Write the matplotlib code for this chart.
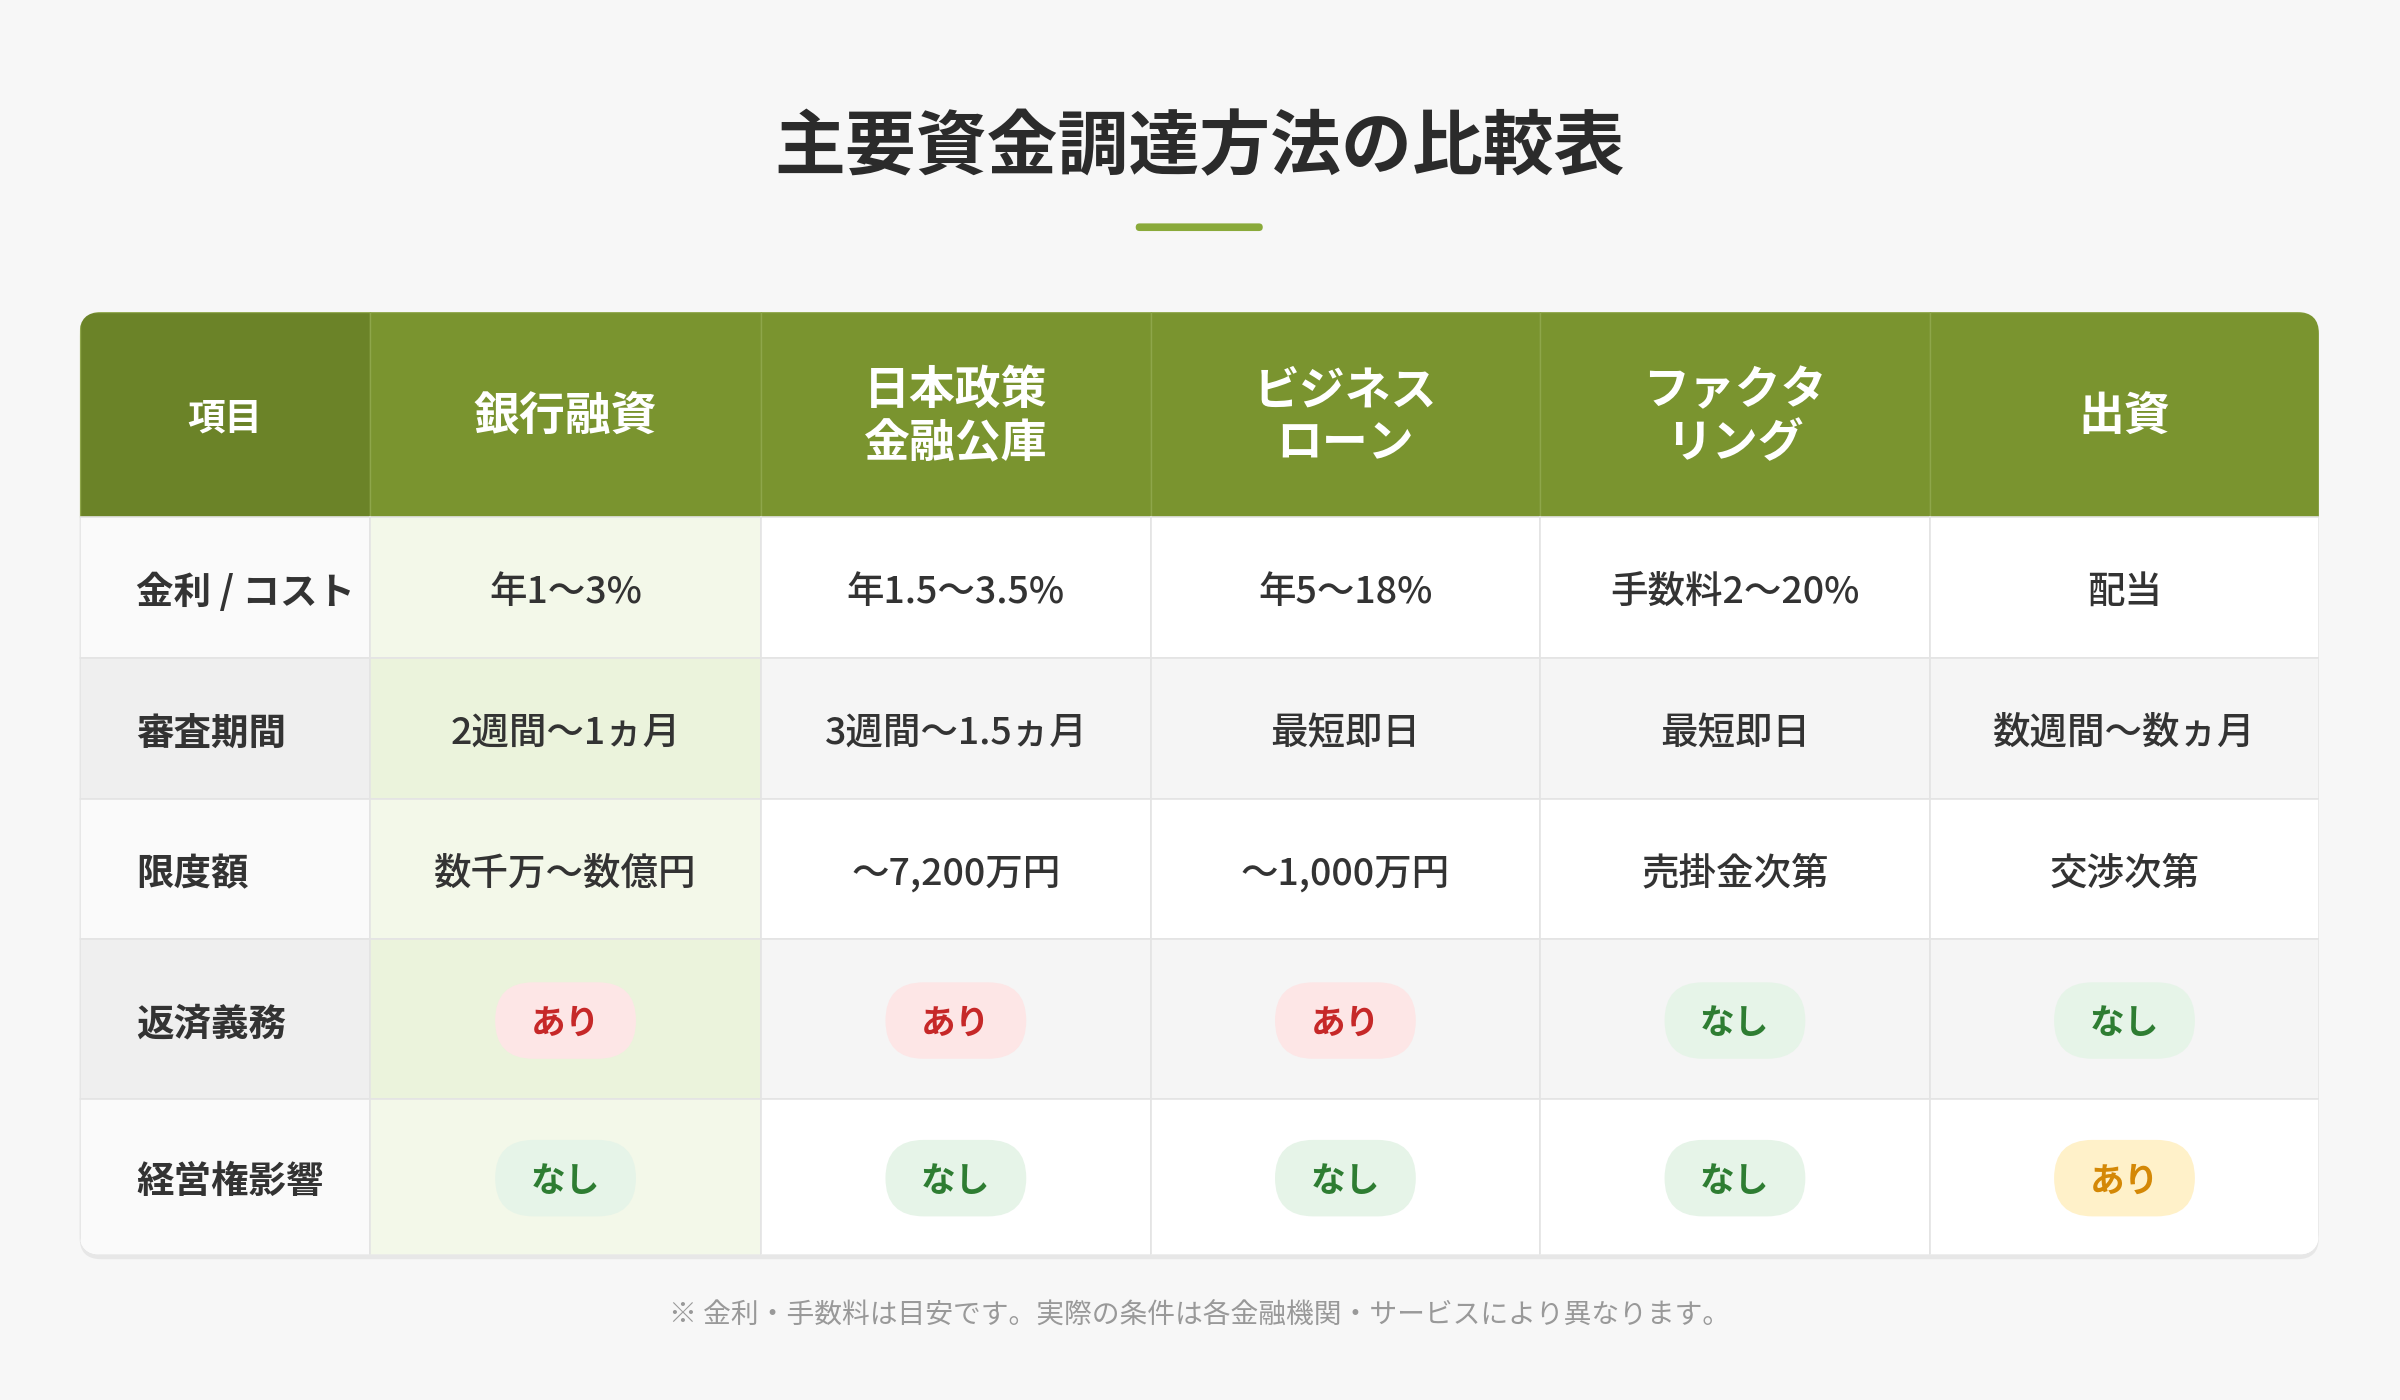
import matplotlib
matplotlib.use("Agg")
import matplotlib.pyplot as plt
from matplotlib.patches import FancyBboxPatch, Rectangle

plt.rcParams['font.family'] = ['Noto Sans CJK JP', 'DejaVu Sans']

# ---------------------------------------------------------------------------
# Data
# ---------------------------------------------------------------------------
title = "主要資金調達方法の比較表"
footnote = "※ 金利・手数料は目安です。実際の条件は各金融機関・サービスにより異なります。"
headers = ["項目", "銀行融資", "日本政策\n金融公庫", "ビジネス\nローン", "ファクタ\nリング", "出資"]
row_labels = ["金利 / コスト", "審査期間", "限度額", "返済義務", "経営権影響"]
cost = ["年1〜3%", "年1.5〜3.5%", "年5〜18%", "手数料2〜20%", "配当"]
period = ["2週間〜1ヵ月", "3週間〜1.5ヵ月", "最短即日", "最短即日", "数週間〜数ヵ月"]
limit = ["数千万〜数億円", "〜7,200万円", "〜1,000万円", "売掛金次第", "交渉次第"]
repay = ["あり", "あり", "あり", "なし", "なし"]
control = ["なし", "なし", "なし", "なし", "あり"]
text_rows = [cost, period, limit]
badge_rows = [repay, control]

# badge styles: (background, text colour)
bad = ("#fde6e6", "#c62828")
good = ("#e6f4e8", "#2e7d32")
warn = ("#fff1c9", "#d48806")
repay_style = [bad if v == "あり" else good for v in repay]
control_style = [warn if v == "あり" else good for v in control]

# ---------------------------------------------------------------------------
# Layout (in a 1568 x 915 design space)
# ---------------------------------------------------------------------------
W, H = 1568, 915
col_x = [52, 242, 497, 752, 1006, 1261, 1515]
row_y = [204, 338, 430, 522, 614, 718, 820]

fig = plt.figure(figsize=(24, 14), dpi=100)
fig.patch.set_facecolor("#f7f7f7")
ax = fig.add_axes([0, 0, 1, 1])
ax.set_xlim(0, W)
ax.set_ylim(H, 0)
ax.axis("off")

ax.text(W / 2, 97, title, ha="center", va="center", fontsize=51,
        fontweight="bold", color="#2b2b2b")
ax.add_patch(FancyBboxPatch((742, 146), 83, 5, boxstyle="round,pad=0,rounding_size=2.5",
                            facecolor="#8aaa3a", edgecolor="none"))

# shadow + table frame
x0, x1, y0, y1 = col_x[0], col_x[-1], row_y[0], row_y[-1]
ax.add_patch(FancyBboxPatch((x0, y0 + 3), x1 - x0, y1 - y0,
                            boxstyle="round,pad=0,rounding_size=14",
                            facecolor="#00000010", edgecolor="none"))
frame = FancyBboxPatch((x0, y0), x1 - x0, y1 - y0,
                       boxstyle="round,pad=0,rounding_size=14",
                       facecolor="white", edgecolor="none")
ax.add_patch(frame)

def cell(c, r, color):
    p = Rectangle((col_x[c], row_y[r]), col_x[c + 1] - col_x[c],
                  row_y[r + 1] - row_y[r], facecolor=color,
                  edgecolor="#e4e4e4", linewidth=1.2)
    ax.add_patch(p)
    p.set_clip_path(frame)

# header
for c, h in enumerate(headers):
    p = Rectangle((col_x[c], row_y[0]), col_x[c + 1] - col_x[c], row_y[1] - row_y[0],
                  facecolor="#6b8328" if c == 0 else "#7a942f",
                  edgecolor="#8ea64a", linewidth=1.0)
    ax.add_patch(p)
    p.set_clip_path(frame)
    ax.text((col_x[c] + col_x[c + 1]) / 2, (row_y[0] + row_y[1]) / 2 + 2, h,
            ha="center", va="center", fontsize=33 if c else 27, fontweight="bold",
            color="white", linespacing=1.2)

# body
for r, lab in enumerate(row_labels):
    ri = r + 1
    alt = r % 2 == 1
    cy = (row_y[ri] + row_y[ri + 1]) / 2 + 3
    cell(0, ri, "#efefef" if alt else "#fafafa")
    ax.text(col_x[0] + 37, cy, lab, ha="left", va="center", fontsize=27,
            fontweight="bold", color="#333333")
    for c in range(5):
        ci = c + 1
        if ci == 1:
            bg = "#ebf3dc" if alt else "#f3f8e9"
        else:
            bg = "#f5f5f5" if alt else "white"
        cell(ci, ri, bg)
        cx = (col_x[ci] + col_x[ci + 1]) / 2
        if r < 3:
            ax.text(cx, cy, text_rows[r][c], ha="center", va="center",
                    fontsize=27, color="#333333", fontweight="medium")
        else:
            vals = badge_rows[r - 3]
            st = (repay_style if r == 3 else control_style)[c]
            ax.add_patch(FancyBboxPatch((cx - 46, cy - 27), 92, 50,
                                        boxstyle="round,pad=0,rounding_size=25",
                                        facecolor=st[0], edgecolor="none"))
            ax.text(cx, cy, vals[c], ha="center", va="center", fontsize=25,
                    fontweight="bold", color=st[1])

ax.text(W / 2, 860, footnote, ha="center", va="center", fontsize=20, color="#999999")

fig.savefig("out.png", dpi=100, facecolor=fig.get_facecolor())
